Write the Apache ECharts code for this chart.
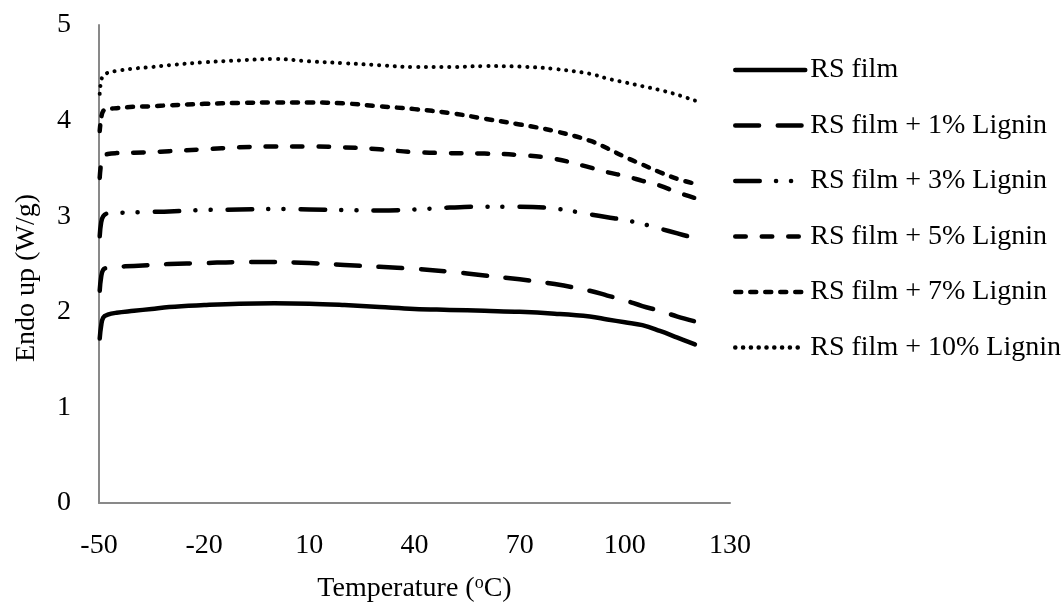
<!DOCTYPE html>
<html>
<head>
<meta charset="utf-8">
<script src="https://cdn.jsdelivr.net/npm/echarts@6/dist/echarts.min.js"></script>
<style>
  html, body { margin: 0; padding: 0; background: #ffffff; }
  #chart { width: 1064px; height: 608px; }
</style>
</head>
<body>
<div id="chart"></div>
<script>
// DSC heat-flow curves (Endo up, W/g) versus temperature (°C)
const temperature = [-49.8, -49.4, -48.8, -47.5, -45, -40, -35, -30, -20, -10, 0, 10, 20, 30, 40, 50, 60, 70, 80, 90, 95, 100, 105, 110, 115, 120];

const rsFilm    = [1.72, 1.85, 1.94, 1.97, 1.99, 2.01, 2.03, 2.05, 2.07, 2.085, 2.09, 2.085, 2.07, 2.05, 2.03, 2.02, 2.01, 2.00, 1.98, 1.95, 1.92, 1.89, 1.86, 1.80, 1.73, 1.66];
const lignin1   = [2.22, 2.36, 2.44, 2.46, 2.47, 2.48, 2.49, 2.50, 2.51, 2.52, 2.52, 2.51, 2.49, 2.47, 2.45, 2.42, 2.38, 2.34, 2.29, 2.22, 2.17, 2.12, 2.06, 2.01, 1.95, 1.90];
const lignin3   = [2.79, 2.93, 3.00, 3.03, 3.035, 3.04, 3.045, 3.05, 3.065, 3.07, 3.075, 3.07, 3.065, 3.06, 3.07, 3.09, 3.10, 3.10, 3.08, 3.02, 2.99, 2.96, 2.92, 2.87, 2.82, 2.77];
const lignin5   = [3.40, 3.55, 3.63, 3.65, 3.66, 3.665, 3.67, 3.68, 3.70, 3.72, 3.73, 3.73, 3.72, 3.70, 3.67, 3.66, 3.655, 3.64, 3.60, 3.51, 3.46, 3.42, 3.37, 3.32, 3.25, 3.19];
const lignin7   = [3.89, 4.02, 4.10, 4.12, 4.13, 4.145, 4.15, 4.16, 4.175, 4.185, 4.19, 4.19, 4.18, 4.15, 4.12, 4.08, 4.02, 3.96, 3.89, 3.79, 3.71, 3.62, 3.54, 3.46, 3.39, 3.34];
const lignin10  = [4.28, 4.41, 4.47, 4.50, 4.52, 4.545, 4.56, 4.58, 4.61, 4.63, 4.645, 4.62, 4.60, 4.58, 4.56, 4.56, 4.57, 4.565, 4.54, 4.49, 4.44, 4.40, 4.36, 4.32, 4.27, 4.21];

const seriesNames = [
  'RS film',
  'RS film + 1% Lignin',
  'RS film + 3% Lignin',
  'RS film + 5% Lignin',
  'RS film + 7% Lignin',
  'RS film + 10% Lignin'
];
const seriesValues = [rsFilm, lignin1, lignin3, lignin5, lignin7, lignin10];

const xTicks = [-50, -20, 10, 40, 70, 100, 130];
const yTicks = [0, 1, 2, 3, 4, 5];

// line patterns: solid, long dash, dash-dot-dot, dash, short dash, dotted
const dashPatterns = [
  'solid',
  [23.8, 18.7],
  [24.5, 16.25, 0.1, 14.9, 0.1, 17.15],
  [10.5, 16],
  [6, 9],
  [0.1, 7.7]
];
const lineWidths = [4.5, 4.5, 4.5, 4.5, 4.5, 4];

const FONT = '"Liberation Serif", "Times New Roman", serif';

const chart = echarts.init(document.getElementById('chart'), null, { renderer: 'canvas' });

const series = seriesNames.map((name, i) => ({
  name: name,
  type: 'line',
  data: temperature.map((t, k) => [t, seriesValues[i][k]]),
  symbol: 'none',
  smooth: 0.4,
  animation: false,
  itemStyle: { color: '#000000', opacity: 0 },
  lineStyle: {
    color: '#000000',
    width: lineWidths[i],
    type: dashPatterns[i],
    cap: 'round',
    join: 'round'
  }
}));

chart.setOption({
  backgroundColor: '#ffffff',
  animation: false,
  grid: { left: 99, right: 334, top: 25, bottom: 100, containLabel: false },
  xAxis: {
    type: 'value',
    min: xTicks[0],
    max: xTicks[xTicks.length - 1],
    interval: xTicks[1] - xTicks[0],
    name: 'Temperature ({sup|o}C)',
    nameLocation: 'middle',
    nameGap: 71,
    nameTextStyle: {
      fontFamily: FONT, fontSize: 28, color: '#000000',
      rich: {
        sup: { fontFamily: FONT, fontSize: 18, color: '#000000', verticalAlign: 'top', padding: [0, 0, 12, 0] }
      }
    },
    axisLine: { show: true, onZero: false, lineStyle: { color: '#898989', width: 2 } },
    axisTick: { show: false },
    splitLine: { show: false },
    axisLabel: { fontFamily: FONT, fontSize: 28, color: '#000000', margin: 29 }
  },
  yAxis: {
    type: 'value',
    min: yTicks[0],
    max: yTicks[yTicks.length - 1],
    interval: yTicks[1] - yTicks[0],
    name: 'Endo up (W/g)',
    nameLocation: 'middle',
    nameGap: 58,
    nameTextStyle: { fontFamily: FONT, fontSize: 28, color: '#000000', padding: [0, 28, 0, 0] },
    axisLine: { show: true, onZero: false, lineStyle: { color: '#898989', width: 2 } },
    axisTick: { show: false },
    splitLine: { show: false },
    axisLabel: { fontFamily: FONT, fontSize: 28, color: '#000000', margin: 28 }
  },
  legend: {
    orient: 'vertical',
    left: 733,
    top: 55,
    padding: 0,
    itemWidth: 70,
    itemHeight: 14,
    itemGap: 25.5,
    data: seriesNames,
    itemStyle: { opacity: 0 },
    lineStyle: { width: 4.5 },
    textStyle: { fontFamily: FONT, fontSize: 28, color: '#000000', lineHeight: 30 },
    selectedMode: false
  },
  series: series
});
</script>
</body>
</html>
